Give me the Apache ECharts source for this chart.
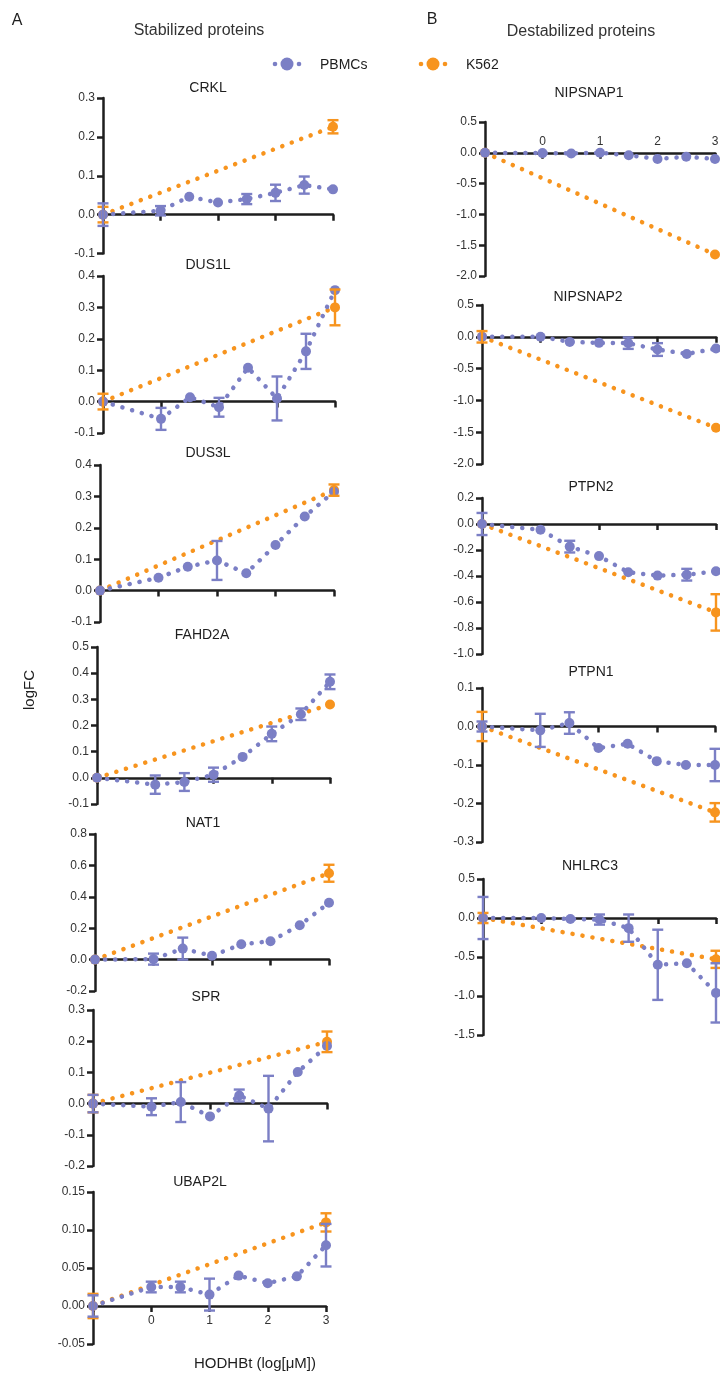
<!DOCTYPE html>
<html>
<head>
<meta charset="utf-8">
<title>HODHBt logFC</title>
<script src="https://cdn.jsdelivr.net/npm/echarts@6/dist/echarts.min.js"></script>
<style>
  html, body { margin: 0; padding: 0; background: #fff; }
  #main { width: 720px; height: 1381px; }
</style>
</head>
<body>
<div id="main"></div>
<script>
// doses on log scale, -1 is the untreated control
var doses = [-1, 0, 0.5, 1, 1.5, 2, 2.5, 3];
var k562Doses = [-1, 3];

// stabilized proteins
var CRKL_pbmc = [0, 0.01, 0.046, 0.031, 0.04, 0.056, 0.076, 0.065];
var CRKL_pbmcErr = [0.029, 0.012, 0, 0, 0.013, 0.021, 0.022, 0];
var CRKL_k562 = [0, 0.226];
var CRKL_k562Err = [0.02, 0.017];

var DUS1L_pbmc = [0, -0.055, 0.014, -0.018, 0.108, 0.01, 0.16, 0.355];
var DUS1L_pbmcErr = [0, 0.035, 0, 0.03, 0, 0.07, 0.056, 0];
var DUS1L_k562 = [0, 0.30];
var DUS1L_k562Err = [0.025, 0.057];

var DUS3L_pbmc = [0, 0.041, 0.076, 0.096, 0.055, 0.145, 0.236, 0.315];
var DUS3L_pbmcErr = [0, 0, 0, 0.062, 0, 0, 0, 0];
var DUS3L_k562 = [0, 0.32];
var DUS3L_k562Err = [0, 0.018];

var FAHD2A_pbmc = [0, -0.026, -0.016, 0.012, 0.08, 0.168, 0.243, 0.367];
var FAHD2A_pbmcErr = [0, 0.035, 0.034, 0.027, 0, 0.028, 0.022, 0.028];
var FAHD2A_k562 = [0, 0.28];
var FAHD2A_k562Err = [0, 0];

var NAT1_pbmc = [0, 0.003, 0.07, 0.024, 0.098, 0.117, 0.219, 0.362];
var NAT1_pbmcErr = [0, 0.035, 0.07, 0, 0, 0, 0, 0];
var NAT1_k562 = [0, 0.55];
var NAT1_k562Err = [0, 0.054];

var SPR_pbmc = [0, -0.01, 0.005, -0.041, 0.026, -0.016, 0.101, 0.185];
var SPR_pbmcErr = [0.028, 0.027, 0.064, 0, 0.019, 0.105, 0, 0];
var SPR_k562 = [0, 0.198];
var SPR_k562Err = [0.028, 0.033];

var UBAP2L_pbmc = [0, 0.025, 0.025, 0.015, 0.04, 0.03, 0.039, 0.08];
var UBAP2L_pbmcErr = [0.014, 0.007, 0.007, 0.021, 0, 0, 0, 0.028];
var UBAP2L_k562 = [0, 0.11];
var UBAP2L_k562Err = [0.016, 0.012];

// destabilized proteins
var NIPSNAP1_pbmc = [0, -0.005, -0.01, 0, -0.04, -0.1, -0.065, -0.1];
var NIPSNAP1_pbmcErr = [0, 0, 0, 0, 0, 0, 0, 0];
var NIPSNAP1_k562 = [0, -1.65];
var NIPSNAP1_k562Err = [0, 0];

var NIPSNAP2_pbmc = [0, 0, -0.08, -0.095, -0.1, -0.2, -0.27, -0.185];
var NIPSNAP2_pbmcErr = [0, 0, 0, 0, 0.09, 0.1, 0, 0];
var NIPSNAP2_k562 = [0, -1.43];
var NIPSNAP2_k562Err = [0.09, 0];

var PTPN2_pbmc = [0, -0.044, -0.174, -0.247, -0.371, -0.397, -0.39, -0.364];
var PTPN2_pbmcErr = [0.085, 0, 0.045, 0, 0, 0, 0.045, 0];
var PTPN2_k562 = [0, -0.68];
var PTPN2_k562Err = [0, 0.14];

var PTPN1_pbmc = [0, -0.01, 0.009, -0.056, -0.045, -0.09, -0.1, -0.1];
var PTPN1_pbmcErr = [0.013, 0.043, 0.028, 0, 0, 0, 0, 0.042];
var PTPN1_k562 = [0, -0.223];
var PTPN1_k562Err = [0.038, 0.024];

var NHLRC3_pbmc = [0, 0, -0.013, -0.02, -0.13, -0.6, -0.58, -0.96];
var NHLRC3_pbmcErr = [0.27, 0, 0, 0.065, 0.175, 0.45, 0, 0.38];
var NHLRC3_k562 = [0, -0.53];
var NHLRC3_k562Err = [0.065, 0.11];

// y axis ranges: [min, max, interval, decimals]
var yRange = {
  CRKL: [-0.1, 0.3, 0.1, 1], DUS1L: [-0.1, 0.4, 0.1, 1], DUS3L: [-0.1, 0.4, 0.1, 1],
  FAHD2A: [-0.1, 0.5, 0.1, 1], NAT1: [-0.2, 0.8, 0.2, 1], SPR: [-0.2, 0.3, 0.1, 1],
  UBAP2L: [-0.05, 0.15, 0.05, 2], NIPSNAP1: [-2, 0.5, 0.5, 1], NIPSNAP2: [-2, 0.5, 0.5, 1],
  PTPN2: [-1, 0.2, 0.2, 1], PTPN1: [-0.3, 0.1, 0.1, 1], NHLRC3: [-1.5, 0.5, 0.5, 1]
};

var dataSets = {
  CRKL: [CRKL_pbmc, CRKL_pbmcErr, CRKL_k562, CRKL_k562Err],
  DUS1L: [DUS1L_pbmc, DUS1L_pbmcErr, DUS1L_k562, DUS1L_k562Err],
  DUS3L: [DUS3L_pbmc, DUS3L_pbmcErr, DUS3L_k562, DUS3L_k562Err],
  FAHD2A: [FAHD2A_pbmc, FAHD2A_pbmcErr, FAHD2A_k562, FAHD2A_k562Err],
  NAT1: [NAT1_pbmc, NAT1_pbmcErr, NAT1_k562, NAT1_k562Err],
  SPR: [SPR_pbmc, SPR_pbmcErr, SPR_k562, SPR_k562Err],
  UBAP2L: [UBAP2L_pbmc, UBAP2L_pbmcErr, UBAP2L_k562, UBAP2L_k562Err],
  NIPSNAP1: [NIPSNAP1_pbmc, NIPSNAP1_pbmcErr, NIPSNAP1_k562, NIPSNAP1_k562Err],
  NIPSNAP2: [NIPSNAP2_pbmc, NIPSNAP2_pbmcErr, NIPSNAP2_k562, NIPSNAP2_k562Err],
  PTPN2: [PTPN2_pbmc, PTPN2_pbmcErr, PTPN2_k562, PTPN2_k562Err],
  PTPN1: [PTPN1_pbmc, PTPN1_pbmcErr, PTPN1_k562, PTPN1_k562Err],
  NHLRC3: [NHLRC3_pbmc, NHLRC3_pbmcErr, NHLRC3_k562, NHLRC3_k562Err]
};

// panel placement (pixels): plot box and title position
var panels = [
  { name: 'CRKL', top: 98, bottom: 253.5, left: 103, right: 333, tx: 208, ty: 88 },
  { name: 'DUS1L', top: 276, bottom: 433, left: 103, right: 335, tx: 208, ty: 265 },
  { name: 'DUS3L', top: 465, bottom: 622, left: 100, right: 334, tx: 208, ty: 453 },
  { name: 'FAHD2A', top: 647, bottom: 804, left: 97, right: 330, tx: 202, ty: 635 },
  { name: 'NAT1', top: 834, bottom: 991, left: 95, right: 329, tx: 203, ty: 823 },
  { name: 'SPR', top: 1010, bottom: 1166, left: 93, right: 327, tx: 206, ty: 997 },
  { name: 'UBAP2L', top: 1192, bottom: 1344, left: 93, right: 326, tx: 200, ty: 1182, xLabels: 'bottom' },
  { name: 'NIPSNAP1', top: 122, bottom: 276, left: 485, right: 715, tx: 589, ty: 93, xLabels: 'top' },
  { name: 'NIPSNAP2', top: 305, bottom: 464, left: 482, right: 716, tx: 588, ty: 297 },
  { name: 'PTPN2', top: 498, bottom: 654, left: 482, right: 716, tx: 591, ty: 487 },
  { name: 'PTPN1', top: 688, bottom: 842, left: 482, right: 715, tx: 591, ty: 672 },
  { name: 'NHLRC3', top: 879, bottom: 1035, left: 483, right: 716, tx: 590, ty: 866 }
];

var BLUE = '#7b7fc5';
var ORANGE = '#f7941e';
var INK = '#1e1e1e';
var FONT = '"Liberation Sans", Arial, sans-serif';

function lineSeries(idx, name, xs, ys, color, z) {
  return {
    type: 'line', name: name, xAxisIndex: idx, yAxisIndex: idx,
    data: xs.map(function (x, i) { return [x, ys[i]]; }),
    symbol: 'circle', symbolSize: 10, showSymbol: true,
    itemStyle: { color: color },
    lineStyle: { color: color, width: 4.5, type: [0.1, 10], cap: 'round' },
    clip: false, animation: false, z: z
  };
}

function errSeries(idx, xs, means, errs, color, z) {
  var data = [];
  xs.forEach(function (x, i) {
    if (errs[i] > 0) data.push([x, means[i] - errs[i], means[i] + errs[i]]);
  });
  return {
    type: 'custom', xAxisIndex: idx, yAxisIndex: idx, data: data, clip: false, z: z,
    encode: { x: 0, y: [1, 2] }, animation: false, silent: true,
    renderItem: function (params, api) {
      var lo = api.coord([api.value(0), api.value(1)]);
      var hi = api.coord([api.value(0), api.value(2)]);
      var w = 5.5;
      var st = { stroke: color, lineWidth: 2.4 };
      return {
        type: 'group',
        children: [
          { type: 'line', shape: { x1: lo[0], y1: lo[1], x2: hi[0], y2: hi[1] }, style: st },
          { type: 'line', shape: { x1: lo[0] - w, y1: lo[1], x2: lo[0] + w, y2: lo[1] }, style: st },
          { type: 'line', shape: { x1: hi[0] - w, y1: hi[1], x2: hi[0] + w, y2: hi[1] }, style: st }
        ]
      };
    }
  };
}

var grids = [], xAxes = [], yAxes = [], series = [];
var graphics = [
  { type: 'text', x: 17, y: 21, style: { text: 'A', font: '16px ' + FONT, fill: INK, align: 'center', verticalAlign: 'middle' } },
  { type: 'text', x: 432, y: 20, style: { text: 'B', font: '16px ' + FONT, fill: INK, align: 'center', verticalAlign: 'middle' } },
  { type: 'text', x: 199, y: 31, style: { text: 'Stabilized proteins', font: '16px ' + FONT, fill: '#333', align: 'center', verticalAlign: 'middle' } },
  { type: 'text', x: 581, y: 32, style: { text: 'Destabilized proteins', font: '16px ' + FONT, fill: '#333', align: 'center', verticalAlign: 'middle' } },
  { type: 'text', x: 30, y: 690, rotation: Math.PI / 2, style: { text: 'logFC', font: '15px ' + FONT, fill: INK, align: 'center', verticalAlign: 'middle' } },
  { type: 'text', x: 255, y: 1364, style: { text: 'HODHBt (log[\u03bcM])', font: '15px ' + FONT, fill: INK, align: 'center', verticalAlign: 'middle' } }
];

// legend drawn as marker + label
[[287, 'PBMCs', BLUE], [433, 'K562', ORANGE]].forEach(function (l) {
  graphics.push({ type: 'circle', shape: { cx: l[0] - 12, cy: 64, r: 2.3 }, style: { fill: l[2] } });
  graphics.push({ type: 'circle', shape: { cx: l[0] + 12, cy: 64, r: 2.3 }, style: { fill: l[2] } });
  graphics.push({ type: 'circle', shape: { cx: l[0], cy: 64, r: 6.5 }, style: { fill: l[2] } });
  graphics.push({ type: 'text', x: l[0] + 33, y: 65, style: { text: l[1], font: '14px ' + FONT, fill: INK, verticalAlign: 'middle' } });
});

panels.forEach(function (p, i) {
  var yr = yRange[p.name];
  var d = dataSets[p.name];
  var h = p.bottom - p.top;
  // put the x axis (line, ticks and labels) on y = 0
  var zeroOffset = -h * (-yr[0]) / (yr[1] - yr[0]);
  grids.push({ left: p.left, top: p.top, width: p.right - p.left, height: h, containLabel: false, outerBoundsMode: 'none' });
  xAxes.push({
    gridIndex: i, type: 'value', min: -1, max: 3, interval: 1, position: 'bottom', offset: zeroOffset,
    axisLine: { show: true, onZero: false, lineStyle: { color: INK, width: 2.5 } },
    axisTick: { show: true, length: 6, inside: false, lineStyle: { color: INK, width: 2.5 } },
    axisLabel: {
      show: !!p.xLabels, inside: p.xLabels === 'top', margin: p.xLabels === 'top' ? 5 : 9,
      color: '#333', fontSize: 12, fontFamily: FONT,
      formatter: function (v) { return v < 0 ? '' : String(v); }
    },
    splitLine: { show: false }
  });
  yAxes.push({
    gridIndex: i, type: 'value', min: yr[0], max: yr[1], interval: yr[2],
    axisLine: { show: true, onZero: false, lineStyle: { color: INK, width: 2.5 } },
    axisTick: { show: true, length: 6, lineStyle: { color: INK, width: 2.5 } },
    axisLabel: {
      color: '#333', fontSize: 12, fontFamily: FONT, margin: 8,
      formatter: function (v) { return v.toFixed(yr[3]); }
    },
    splitLine: { show: false }
  });
  series.push(lineSeries(i, 'K562', k562Doses, d[2], ORANGE, 2));
  series.push(lineSeries(i, 'PBMCs', doses, d[0], BLUE, 3));
  series.push(errSeries(i, k562Doses, d[2], d[3], ORANGE, 4));
  series.push(errSeries(i, doses, d[0], d[1], BLUE, 5));
  graphics.push({ type: 'text', x: p.tx, y: p.ty, style: { text: p.name, font: '14px ' + FONT, fill: INK, align: 'center', verticalAlign: 'middle' } });
});

var myChart = echarts.init(document.getElementById('main'), null, { renderer: 'canvas' });
var option = {
  backgroundColor: '#fff',
  animation: false,
  grid: grids,
  xAxis: xAxes,
  yAxis: yAxes,
  series: series,
  graphic: graphics
};
myChart.setOption(option);
</script>
</body>
</html>
